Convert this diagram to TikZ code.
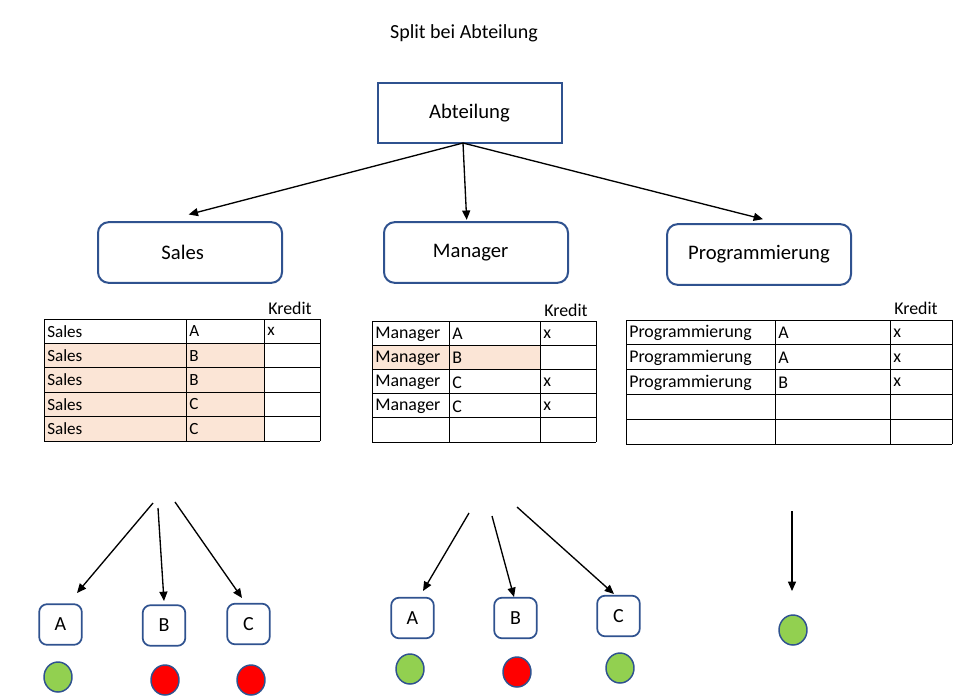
\documentclass[tikz,border=0pt]{standalone}
\usepackage{fontspec}
\setmainfont{Carlito}
\usetikzlibrary{positioning, arrows.meta}
\definecolor{boxblue}{HTML}{2F528F}
\definecolor{peach}{HTML}{FBE5D6}
\definecolor{okgreen}{HTML}{92D050}
\tikzset{
  splitbox/.style={draw=boxblue, line width=1.5pt, fill=white, minimum width=138pt, minimum height=45.5pt, font=\fontsize{15.5}{18}\selectfont},
  leafbox/.style={draw=boxblue, line width=1.3pt, rounded corners=6pt, minimum width=32pt, minimum height=30.5pt, font=\fontsize{15}{18}\selectfont},
  dot/.style={draw=boxblue, line width=1.1pt, ellipse, minimum width=21pt, minimum height=22.5pt, inner sep=0pt},
  arr/.style={-{Triangle[length=7pt,width=6pt]}, line width=1pt},
  cell/.style={anchor=west, inner sep=0pt, font=\fontsize{13.4}{15}\selectfont},
  grid/.style={line width=0.7pt}
}
\usetikzlibrary{shapes.geometric}
\begin{document}
\begin{tikzpicture}[x=0.75pt, y=-0.75pt]
\useasboundingbox (0,0) rectangle (963,697);
\node[font=\fontsize{15}{18}\selectfont] (title) at (464,33) {Split bei Abteilung};

% Entscheidung
\node[splitbox] (abt) at (469.5,113) {Abteilung};
\node[splitbox, rounded corners=8pt, text width=120pt, align=center] (sales) at (190,252.5) {\hspace*{-11pt}Sales};
\node[splitbox, rounded corners=8pt, text width=120pt, align=center] (mgr) at (476,252.5) {\hspace*{-8pt}Manager};
\node[splitbox, rounded corners=8pt] (prog) at (759,254.5) {Programmierung};

\coordinate (abtout) at (463,143);
\draw[arr] (abtout) -- ([xshift=-1pt,yshift=5pt]sales.north);
\draw[arr] (abtout) -- ([xshift=-7pt,yshift=1pt]mgr.north);
\draw[arr] (abtout) -- ([xshift=3pt,yshift=3pt]prog.north);

% Tabelle Sales
\fill[peach] (44,343.4) rectangle (264,441);
\foreach \y in {319,343.4,367.8,392.2,416.6,441} \draw[grid] (44,\y) -- (320,\y);
\foreach \x in {44,186,264,320} \draw[grid] (\x,319) -- (\x,441);
\node[cell] (krs) at (268,308) {Kredit};
\foreach \r/\a/\b/\c in {0/Sales/A/x,1/Sales/B/,2/Sales/B/,3/Sales/C/,4/Sales/C/}{
  \node[cell, font=\fontsize{12.8}{15}\selectfont] (s\r a) at (47,331.2+24.4*\r) {\a};
  \node[cell, font=\fontsize{12.8}{15}\selectfont] (s\r b) at (189,331.2+24.4*\r) {\b};
  \node[cell, font=\fontsize{12.8}{15}\selectfont] (s\r c) at (267,331.2+24.4*\r) {\c};
}

% Tabelle Manager
\fill[peach] (372,345.2) rectangle (540,369.4);
\foreach \y in {321,345.2,369.4,393.6,417.8,442} \draw[grid] (372,\y) -- (596,\y);
\foreach \x in {372,449,540,596} \draw[grid] (\x,321) -- (\x,442);
\node[cell] (krm) at (544,310) {Kredit};
\foreach \r/\a/\b/\c in {0/Manager/A/x,1/Manager/B/,2/Manager/C/x,3/Manager/C/x}{
  \node[cell] (m\r a) at (375,334+24.2*\r) {\a};
  \node[cell] (m\r b) at (452,334+24.2*\r) {\b};
  \node[cell] (m\r c) at (543,334+24.2*\r) {\c};
}

% Tabelle Programmierung
\foreach \y in {320,344.8,369.6,394.4,419.2,444} \draw[grid] (626,\y) -- (952,\y);
\foreach \x in {626,775,890,952} \draw[grid] (\x,320) -- (\x,444);
\node[cell] (krp) at (894,308) {Kredit};
\foreach \r/\a/\b/\c in {0/Programmierung/A/x,1/Programmierung/A/x,2/Programmierung/B/x}{
  \node[cell] (p\r a) at (629,333+24.8*\r) {\a};
  \node[cell] (p\r b) at (778,333+24.8*\r) {\b};
  \node[cell] (p\r c) at (893,333+24.8*\r) {\c};
}

% Blaetter Sales
\node[leafbox] (sA) at (60.5,624.5) {A};
\node[leafbox] (sB) at (164,625.5) {B};
\node[leafbox] (sC) at (248.5,624) {C};
\node[dot, fill=okgreen] (sAd) at (58,677) {};
\node[dot, fill=red] (sBd) at (165,680) {};
\node[dot, fill=red] (sCd) at (251,680) {};
\coordinate (s1) at (153,503);
\coordinate (s2) at (158,508);
\coordinate (s3) at (175,502);
\coordinate (sAin) at (77,593);
\coordinate (sBin) at (164,601);
\coordinate (sCin) at (242,598);
\draw[arr] (s1) -- (sAin);
\draw[arr] (s2) -- (sBin);
\draw[arr] (s3) -- (sCin);

% Blaetter Manager
\node[leafbox] (mA) at (412.5,618) {A};
\node[leafbox] (mB) at (515.5,618) {B};
\node[leafbox] (mC) at (618.5,616) {C};
\node[dot, fill=okgreen] (mAd) at (410,669) {};
\node[dot, fill=red] (mBd) at (517,672) {};
\node[dot, fill=okgreen] (mCd) at (620,668) {};
\coordinate (m1) at (469,513);
\coordinate (m2) at (492,516);
\coordinate (m3) at (517,507);
\coordinate (mAin) at (423,591);
\coordinate (mBin) at (514,597);
\coordinate (mCin) at (614,594);
\draw[arr] (m1) -- (mAin);
\draw[arr] (m2) -- (mBin);
\draw[arr] (m3) -- (mCin);

% Blatt Programmierung
\node[dot, fill=okgreen] (pd) at (793,630) {};
\coordinate (p1) at (792,511);
\coordinate (pin) at (792,591);
\draw[arr] (p1) -- (pin);
\end{tikzpicture}
\end{document}
